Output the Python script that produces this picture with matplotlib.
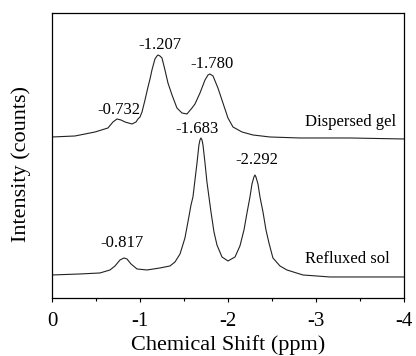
import numpy as np
import matplotlib
matplotlib.use("Agg")
from matplotlib import pyplot as plt
from matplotlib.ticker import MultipleLocator

plt.rcParams["font.family"] = ["Liberation Serif", "DejaVu Serif"]
plt.rcParams["axes.unicode_minus"] = False

# spectra (ppm, arbitrary counts)
gel_ppm = [0.000, -0.261, -0.489, -0.636, -0.693, -0.739, -0.784, -0.830, -0.909, -0.955,
           -0.977, -1.000, -1.023, -1.057, -1.091, -1.114, -1.136, -1.170, -1.193, -1.205,
           -1.227, -1.250, -1.284, -1.318, -1.364, -1.420, -1.477, -1.534, -1.591, -1.625,
           -1.682, -1.739, -1.773, -1.795, -1.830, -1.886, -1.943, -2.000, -2.057, -2.159,
           -2.284, -2.477, -2.818, -3.386, -4.000]
gel_int = [161, 162, 166, 170, 176, 179, 178, 176, 174, 176,
           179, 181, 186, 198, 211, 219, 228, 239, 242, 243,
           242, 240, 228, 215, 203, 190, 185, 184, 190, 194,
           205, 218, 223, 224, 222, 210, 195, 180, 171, 166,
           163, 161, 160, 160, 159]

sol_ppm = [0.000, -0.318, -0.545, -0.659, -0.716, -0.773, -0.818, -0.852, -0.898, -0.966,
           -1.080, -1.227, -1.341, -1.398, -1.455, -1.511, -1.545, -1.580, -1.602, -1.625,
           -1.648, -1.670, -1.682, -1.693, -1.705, -1.716, -1.739, -1.761, -1.784, -1.807,
           -1.841, -1.875, -1.932, -2.000, -2.080, -2.136, -2.182, -2.216, -2.250, -2.273,
           -2.295, -2.307, -2.318, -2.341, -2.364, -2.398, -2.432, -2.466, -2.511, -2.591,
           -2.670, -2.852, -3.159, -4.000]
sol_int = [23, 24, 25, 28, 32, 38, 40, 39, 34, 29,
           28, 30, 32, 36, 44, 60, 76, 93, 101, 118,
           135, 153, 158, 160, 158, 153, 135, 116, 101, 86,
           66, 53, 41, 37, 41, 52, 68, 85, 101, 114,
           121, 123, 121, 114, 101, 86, 68, 55, 40, 32,
           28, 23, 21, 21]

peak_labels_gel = ["-0.732", "-1.207", "-1.780"]
peak_pos_gel = [-0.739, -1.205, -1.795]
peak_labels_sol = ["-0.817", "-1.683", "-2.292"]
peak_pos_sol = [-0.818, -1.693, -2.307]

fig = plt.figure(figsize=(4.16, 3.56), dpi=100)
ax = fig.add_axes([0.125, 0.163, 0.846, 0.8005])

ax.plot(gel_ppm, gel_int, color="#222222", linewidth=0.8, solid_joinstyle="round")
ax.plot(sol_ppm, sol_int, color="#222222", linewidth=0.8, solid_joinstyle="round")

# peak annotations
gel_offsets = [(1, 6.5), (1.5, 7.5), (1.5, 7)]
for lab, p, off in zip(peak_labels_gel, peak_pos_gel, gel_offsets):
    y = np.interp(-p, -np.array(gel_ppm), gel_int)
    ax.annotate(lab, (p, y), xytext=off, textcoords="offset points",
                ha="center", va="center", fontsize=12)
sol_offsets = [(-1.5, 10.5), (-3, 6.5), (1.5, 10.5)]
for lab, p, off in zip(peak_labels_sol, peak_pos_sol, sol_offsets):
    y = np.interp(-p, -np.array(sol_ppm), sol_int)
    ax.annotate(lab, (p, y), xytext=off, textcoords="offset points",
                ha="center", va="center", fontsize=12)

ax.text(-2.88, 176, "Dispersed gel", fontsize=12, ha="left", va="center")
ax.text(-2.88, 39, "Refluxed sol", fontsize=12, ha="left", va="center")

ax.set_xlim(0, -4)
ax.set_ylim(0, 285)
ax.xaxis.set_minor_locator(MultipleLocator(0.5))
ax.set_xticks([0, -1, -2, -3, -4])
ax.set_xticklabels(["0", "-1", "-2", "-3", "-4"])
ax.set_yticks([])
ax.tick_params(axis="x", which="major", direction="out", length=3, width=0.8,
               pad=7, labelsize=15)
ax.tick_params(axis="x", which="minor", direction="out", length=2, width=0.8)
for s in ax.spines.values():
    s.set_linewidth(0.9)

ax.set_xlabel("Chemical Shift (ppm)", fontsize=16, labelpad=3)
ax.set_ylabel("Intensity (counts)", fontsize=16)
ax.yaxis.set_label_coords(-0.06, 0.47)

plt.savefig("out.png", dpi=100)
